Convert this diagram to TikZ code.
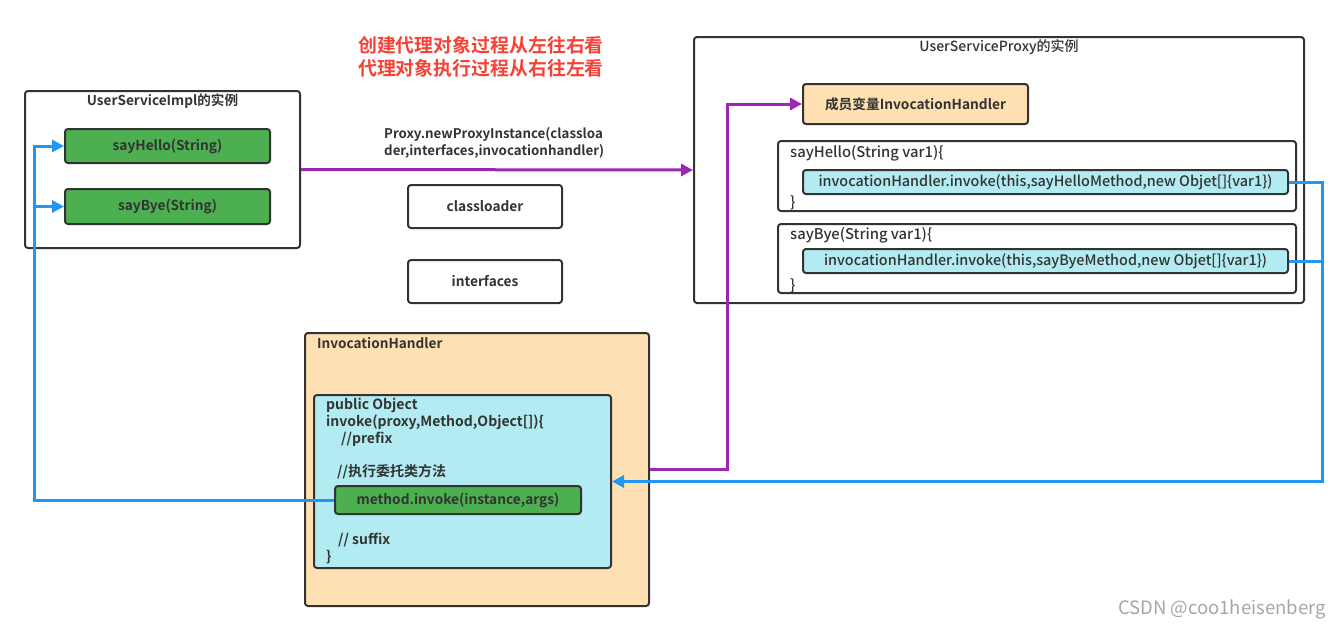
\documentclass[tikz,border=0pt]{standalone}
\usepackage{fontspec}
\setmainfont{Noto Sans CJK SC}[BoldFont={Noto Sans CJK SC Bold}]
\newfontfamily\mediumfont{Noto Sans CJK SC Medium}
\usetikzlibrary{arrows.meta}

\definecolor{linegray}{HTML}{333333}
\definecolor{boxgreen}{HTML}{4CAF50}
\definecolor{boxcyan}{HTML}{B2EBF2}
\definecolor{boxpeach}{HTML}{FFE0B2}
\definecolor{flowpurple}{HTML}{9C27B0}
\definecolor{flowblue}{HTML}{2196F3}
\definecolor{notered}{HTML}{F44336}

\tikzset{
  frame/.style={draw=linegray, line width=2pt, rounded corners=3pt, fill=white, inner sep=0pt},
  greenbox/.style={frame, fill=boxgreen, font=\bfseries\fontsize{13.7}{16}\selectfont, text=linegray},
  cyanbox/.style={frame, fill=boxcyan, font=\mediumfont\fontsize{14.4}{17}\selectfont, text=linegray},
  peachbox/.style={frame, fill=boxpeach},
  plainbox/.style={frame, font=\bfseries\fontsize{13.7}{16}\selectfont, text=linegray},
  title/.style={font=\bfseries\fontsize{13.6}{16}\selectfont, text=linegray, inner sep=0pt},
  codetext/.style={font=\bfseries\fontsize{14}{17}\selectfont, text=linegray, inner sep=0pt, align=left},
  bodytext/.style={font=\mediumfont\fontsize{14.8}{17}\selectfont, text=linegray, inner sep=0pt},
  purpleflow/.style={draw=flowpurple, line width=3pt, -{Triangle[length=12pt,width=12pt]}},
  blueflow/.style={draw=flowblue, line width=3pt, -{Triangle[length=12pt,width=12pt]}},
  bluerail/.style={draw=flowblue, line width=3pt}
}

\begin{document}
\begin{tikzpicture}[x=1pt, y=-1pt]
 \useasboundingbox (0,0) rectangle (1341,629);

 %%%  nodes

 % left instance
 \node [frame, minimum width=275pt, minimum height=157pt] (impl) at (162.5,169.5) {};
 \node [title] (impltitle) at (162.5,101) {UserServiceImpl的实例};
 \node [greenbox, minimum width=205pt, minimum height=34pt] (sayHello) at (167.5,146) {sayHello(String)};
 \node [greenbox, minimum width=205pt, minimum height=35pt] (sayBye) at (167.5,206.5) {sayBye(String)};

 % middle
 \node [font=\bfseries\fontsize{18.9}{23}\selectfont, text=notered, align=center, inner sep=0pt] (note) at (481,56.5)
   {创建代理对象过程从左往右看\\代理对象执行过程从右往左看};
 \node [font=\bfseries\fontsize{13.3}{17}\selectfont, text=linegray, inner sep=0pt, align=left, anchor=north west] (newproxy) at (384,127)
   {Proxy.newProxyInstance(classloa\\der,interfaces,invocationhandler)};
 \node [plainbox, minimum width=154pt, minimum height=43pt] (classloader) at (485,206.5) {classloader};
 \node [plainbox, minimum width=154pt, minimum height=43pt] (interfaces) at (485,281.5) {interfaces};

 % proxy instance
 \node [frame, minimum width=610pt, minimum height=266pt] (proxy) at (999,170) {};
 \node [bodytext, font=\mediumfont\fontsize{14}{16}\selectfont] (proxytitle) at (999,47) {UserServiceProxy的实例};
 \node [peachbox, minimum width=225pt, minimum height=40pt, font=\bfseries\fontsize{13.7}{16}\selectfont, text=linegray] (member) at (915.5,104) {成员变量InvocationHandler};
 \node [frame, minimum width=518pt, minimum height=70pt] (helloBody) at (1037,176) {};
 \node [bodytext, anchor=west] (hellohead) at (790,153) {sayHello(String var1)\{};
 \node [cyanbox, minimum width=485pt, minimum height=24pt] (helloCall) at (1045.5,182) {invocationHandler.invoke(this,sayHelloMethod,new Objet[]\{var1\})};
 \node [bodytext, anchor=west] (helloend) at (790,203) {\}};
 \node [frame, minimum width=518pt, minimum height=69pt] (byeBody) at (1037,258.5) {};
 \node [bodytext, anchor=west] (byehead) at (790,235) {sayBye(String var1)\{};
 \node [cyanbox, minimum width=485pt, minimum height=24pt] (byeCall) at (1045.5,261) {invocationHandler.invoke(this,sayByeMethod,new Objet[]\{var1\})};
 \node [bodytext, anchor=west] (byeend) at (790,286) {\}};

 % invocation handler
 \node [peachbox, minimum width=344pt, minimum height=273pt] (handler) at (477,469.5) {};
 \node [title, anchor=west] (handlertitle) at (317,343) {InvocationHandler};
 \node [frame, fill=boxcyan, minimum width=297pt, minimum height=173pt] (code) at (462.5,481.5) {};
 \node [codetext, anchor=north west] (codehead) at (326,398)
   {public Object\\invoke(proxy,Method,Object[])\{\\\hspace{15pt}//prefix};
 \node [codetext, anchor=west] (codedelegate) at (337,472) {//执行委托类方法};
 \node [greenbox, minimum width=246pt, minimum height=28pt] (invokeBox) at (458,500) {method.invoke(instance,args)};
 \node [codetext, anchor=north west] (codetail) at (326,533) {\hspace{12pt}// suffix\\\}};

 \node [font=\fontsize{18.5}{22}\selectfont, text=gray!70, inner sep=0pt, anchor=east] (mark) at (1326,609) {CSDN @coo1heisenberg};

 %%%  connectors

 \coordinate (purpleturn) at (727,104);
 \coordinate (bluerailright) at (1322,481.5);
 \coordinate (bluerailleft) at (34,146);

 \draw [purpleflow] (impl.east) to (proxy.west);
 \draw [purpleflow] (handler.east) -| (purpleturn) to (member.west);

 \draw [bluerail] (byeCall.east) to (byeCall.east -| bluerailright);
 \draw [blueflow] (helloCall.east) -| (bluerailright) to (code.east);
 \draw [blueflow] (invokeBox.west) -| (bluerailleft) to (sayHello.west);
 \draw [blueflow] (bluerailleft |- sayBye.west) to (sayBye.west);

\end{tikzpicture}
\end{document}
